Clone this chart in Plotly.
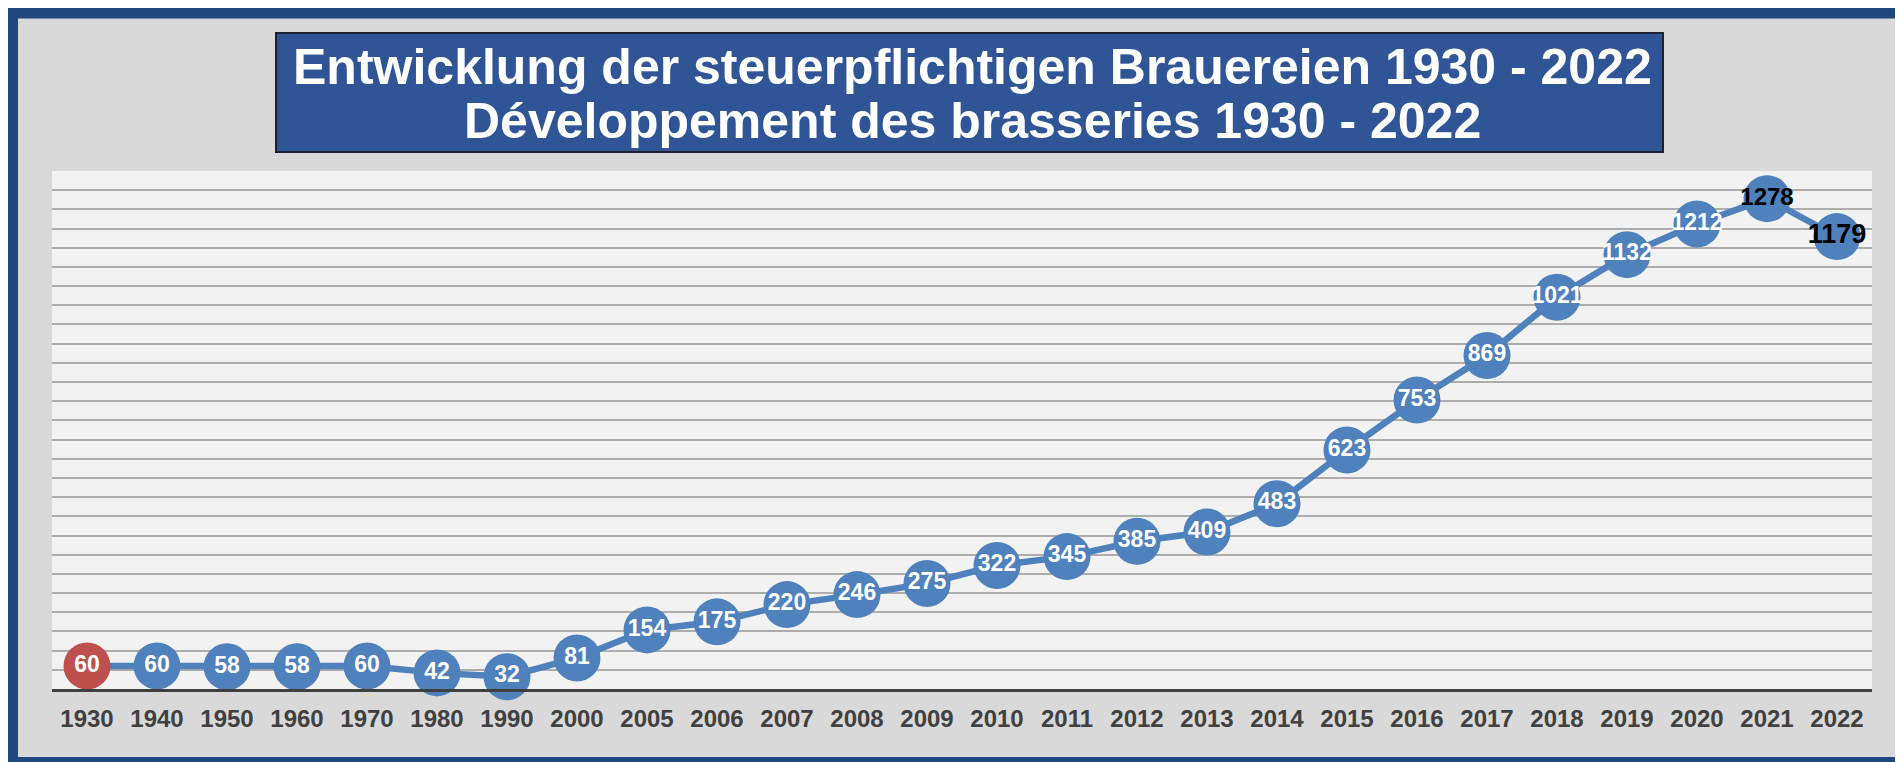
import plotly.graph_objects as go

years = ["1930", "1940", "1950", "1960", "1970", "1980", "1990", "2000", "2005",
         "2006", "2007", "2008", "2009", "2010", "2011", "2012", "2013", "2014",
         "2015", "2016", "2017", "2018", "2019", "2020", "2021", "2022"]
breweries = [60, 60, 58, 58, 60, 42, 32, 81, 154, 175, 220, 246, 275, 322, 345,
             385, 409, 483, 623, 753, 869, 1021, 1132, 1212, 1278, 1179]
title_de = "Entwicklung der steuerpflichtigen Brauereien 1930 - 2022"
title_fr = "Développement des brasseries 1930 - 2022"

W, H = 1903, 762
OFF = 8  # page body margin: screen coords = figure coords + 8
# plot area in screen coordinates
L, R, T, B = 52, 1872, 171, 689

def px(x):
    return (x - L) / (R - L)

def py(y):
    return (B - y) / (B - T)

BLUE = "#4F81BD"
RED = "#C0504D"
n = len(years)
marker_colors = [RED] + [BLUE] * (n - 1)
text_colors = ["white"] * (n - 2) + ["black", "black"]
text_sizes = [23] * (n - 2) + [24, 27]

fig = go.Figure()
fig.add_trace(go.Scatter(
    x=years, y=breweries,
    mode="lines+markers+text",
    line=dict(color=BLUE, width=6.5),
    marker=dict(size=47, color=marker_colors, line=dict(width=0)),
    text=[str(v) for v in breweries],
    textposition="middle center",
    textfont=dict(family="Liberation Sans", weight="bold", color=text_colors, size=text_sizes),
    hoverinfo="x+y",
    cliponaxis=False,
))

shapes = [
    # blue frame
    dict(type="rect", xref="paper", yref="paper", x0=px(12.5), x1=px(1902.5),
         y0=py(13), y1=py(762.5), fillcolor="rgba(0,0,0,0)",
         line=dict(color="#1F497D", width=11), layer="above"),
    # title box
    dict(type="rect", xref="paper", yref="paper", x0=px(276), x1=px(1663),
         y0=py(33), y1=py(152), fillcolor="#2F5597",
         line=dict(color="#1E2230", width=2), layer="above"),
]

annotations = [
    dict(text=title_de, xref="paper", yref="paper", x=px(972), y=py(67),
         xanchor="center", yanchor="middle", showarrow=False,
         font=dict(family="Liberation Sans", weight="bold", size=50, color="white")),
    dict(text=title_fr, xref="paper", yref="paper", x=px(972), y=py(121),
         xanchor="center", yanchor="middle", showarrow=False,
         font=dict(family="Liberation Sans", weight="bold", size=50, color="white")),
]

fig.update_layout(
    width=W, height=H,
    margin=dict(l=L - OFF, r=W - (R - OFF), t=T - OFF, b=H - (B - OFF), pad=0),
    paper_bgcolor="#D9D9D9",
    plot_bgcolor="#F2F2F2",
    showlegend=False,
    shapes=shapes,
    annotations=annotations,
    xaxis=dict(
        type="category", range=[-0.5, n - 0.5],
        showgrid=False, zeroline=False,
        showline=True, linecolor="#3F3F3F", linewidth=3,
        ticks="", tickfont=dict(family="Liberation Sans", weight="bold", size=24, color="#404040"),
        ticklabelstandoff=6,
        fixedrange=True,
    ),
    yaxis=dict(
        range=[0, 1350], dtick=50, tick0=0,
        showgrid=True, gridcolor="#ADADAD", gridwidth=1.5,
        zeroline=False, showticklabels=False, ticks="",
        fixedrange=True,
    ),
)

fig.write_html("out.html")
